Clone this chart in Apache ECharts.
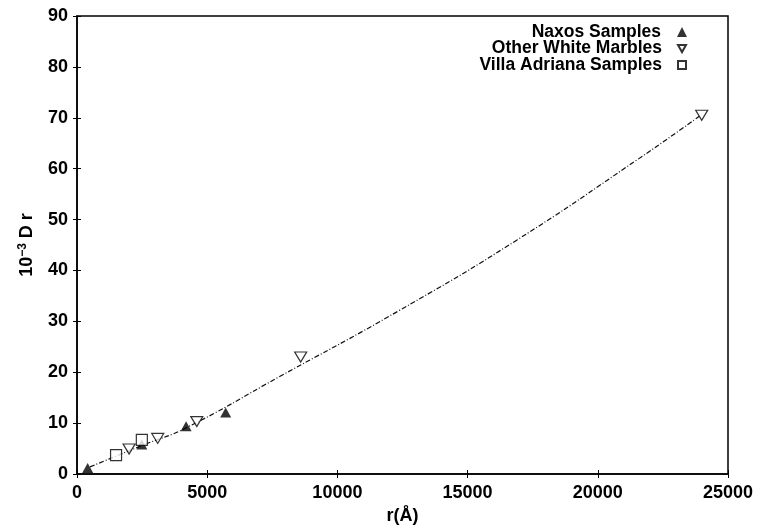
<!DOCTYPE html>
<html>
<head>
<meta charset="utf-8">
<script src="https://cdn.jsdelivr.net/npm/echarts@6/dist/echarts.min.js"></script>
<style>
    html, body { margin: 0; padding: 0; background: #fff; }
    #main { width: 763px; height: 530px; }
</style>
</head>
<body>
<div id="main"></div>
<script>
    // values
    var naxosR = [410, 2490, 4190, 5710];
    var naxosD = [1.2, 5.8, 9.4, 12.1];
    var otherR = [2000, 3100, 4600, 8590, 23990];
    var otherD = [4.9, 7.0, 10.3, 23.0, 70.5];
    var villaR = [1500, 2490];
    var villaD = [3.7, 6.7];
    var fitR = [500, 2500, 4200, 7800, 12400, 16900, 21500, 23900];
    var fitD = [1.4, 5.6, 9.1, 19.2, 32.2, 46.0, 61.7, 70.3];

    var seriesNames = ['Naxos Samples', 'Other White Marbles', 'Villa Adriana Samples'];

    function pairs(xs, ys) {
        var out = [];
        for (var i = 0; i < xs.length; i++) out.push([xs[i], ys[i]]);
        return out;
    }

    var font = 'Liberation Sans';
    var downTri = 'path://M0,0L10,0L5,9Z';
    var myChart = echarts.init(document.getElementById('main'));

    function legendAt(name, top, size) {
        return {
            data: [name],
            orient: 'vertical',
            right: 76,
            top: top,
            padding: 0,
            align: 'right',
            itemWidth: size,
            itemHeight: size,
            selectedMode: false,
            textStyle: {
                fontFamily: font,
                fontSize: 17.5,
                fontWeight: 'bold',
                color: '#000',
                padding: [0, 11, 0, 0]
            }
        };
    }

    var mirrorX = {
        type: 'value', position: 'top', min: 0, max: 25000, interval: 5000,
        axisLine: { show: false },
        axisTick: { inside: true, length: 4, lineStyle: { color: '#000' } },
        axisLabel: { show: false },
        splitLine: { show: false }
    };
    var mirrorY = {
        type: 'value', position: 'right', min: 0, max: 90, interval: 10,
        axisLine: { show: false },
        axisTick: { inside: true, length: 4, lineStyle: { color: '#000' } },
        axisLabel: { show: false },
        splitLine: { show: false }
    };

    var option = {
        animation: false,
        backgroundColor: '#fff',
        textStyle: { fontFamily: font },
        grid: {
            left: 77,
            right: 35,
            top: 16,
            bottom: 56,
            show: true,
            borderColor: '#000',
            borderWidth: 1.5
        },
        legend: [
            legendAt(seriesNames[0], 23, 10),
            legendAt(seriesNames[1], 39.5, 8),
            legendAt(seriesNames[2], 56, 8)
        ],
        xAxis: [
            {
                type: 'value',
                min: 0,
                max: 25000,
                interval: 5000,
                name: 'r(Å)',
                nameLocation: 'middle',
                nameGap: 31,
                nameTextStyle: { fontFamily: font, fontSize: 18, fontWeight: 'bold', color: '#000' },
                axisLine: { show: true, lineStyle: { color: '#000', width: 1.5 } },
                axisTick: { inside: true, length: 4, lineStyle: { color: '#000' } },
                axisLabel: {
                    fontFamily: font, fontSize: 18, fontWeight: 'bold', color: '#000', margin: 10,
                    formatter: function (v) { return String(v); }
                },
                splitLine: { show: false }
            },
            mirrorX
        ],
        yAxis: [
            {
                type: 'value',
                min: 0,
                max: 90,
                interval: 10,
                name: '10{sup|−3} D r',
                nameLocation: 'middle',
                nameGap: 40,
                nameTextStyle: {
                    fontFamily: font, fontSize: 18, fontWeight: 'bold', color: '#000',
                    rich: {
                        sup: { fontFamily: font, fontSize: 12, fontWeight: 'bold', color: '#000', verticalAlign: 'top', padding: [0, 0, 8, 0] }
                    }
                },
                axisLine: { show: true, lineStyle: { color: '#000', width: 1.5 } },
                axisTick: { inside: true, length: 4, lineStyle: { color: '#000' } },
                axisLabel: { fontFamily: font, fontSize: 18, fontWeight: 'bold', color: '#000', margin: 9 },
                splitLine: { show: false }
            },
            mirrorY
        ],
        series: [
            {
                name: 'fit',
                type: 'line',
                smooth: true,
                showSymbol: false,
                silent: true,
                data: pairs(fitR, fitD),
                lineStyle: { color: '#111', width: 1.2, type: [5, 2, 1, 2] },
                z: 1
            },
            {
                name: seriesNames[0],
                type: 'scatter',
                symbol: 'triangle',
                symbolSize: [11, 10],
                data: pairs(naxosR, naxosD),
                itemStyle: { color: '#000' },
                z: 3
            },
            {
                name: seriesNames[1],
                type: 'scatter',
                symbol: downTri,
                symbolSize: [12, 10],
                data: pairs(otherR, otherD),
                itemStyle: { color: '#fff', borderColor: '#000', borderWidth: 1.2 },
                z: 3
            },
            {
                name: seriesNames[2],
                type: 'scatter',
                symbol: 'rect',
                symbolSize: 11,
                data: pairs(villaR, villaD),
                itemStyle: { color: '#fff', borderColor: '#000', borderWidth: 1.2 },
                z: 3
            }
        ]
    };

    myChart.setOption(option);
</script>
</body>
</html>
